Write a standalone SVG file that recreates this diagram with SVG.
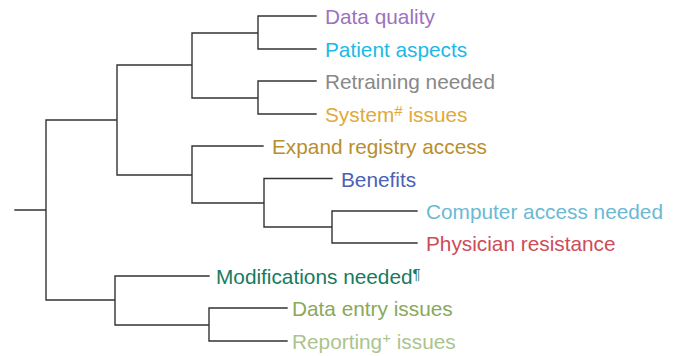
<svg xmlns="http://www.w3.org/2000/svg" width="681" height="356" viewBox="0 0 681 356">
<style>
.c{fill:none;stroke:#333;stroke-width:1.4;stroke-linecap:square}
text{font-family:"Liberation Sans",Arial,sans-serif;font-size:20.8px}
.sup{font-size:15px}
</style>
<rect width="681" height="356" fill="#fff"/>
<g id="connectors">
<path class="c" d="M15 210H46M46 120V300M46 120H117M117 65V175M117 65H192M192 33V98M192 33H258M258 16V49M258 16H316M258 49H316M192 98H258M258 81V114M258 81H316M258 114H316M117 175H192M192 146V203M192 146H263M192 203H264M264 178.5V227M264 178.5H332M264 227H332M332 211V243M332 211H417M332 243H417M46 300H115M115 276V325M115 276H209M115 325H209M209 308V341M209 308H287M209 341H287"/>
</g>
<g id="n-data-quality"><text x="325" y="24" fill="#9b72bf">Data quality</text></g>
<g id="n-patient-aspects"><text x="325" y="57" fill="#1cb9e8">Patient aspects</text></g>
<g id="n-retraining"><text x="325" y="89" fill="#888888">Retraining needed</text></g>
<g id="n-system"><text x="325" y="122" fill="#e0aa3a">System<tspan class="sup" dy="-6">#</tspan><tspan dy="6"> issues</tspan></text></g>
<g id="n-expand"><text x="272" y="154" fill="#b98e2c">Expand registry access</text></g>
<g id="n-benefits"><text x="341" y="186.5" fill="#4a62b5">Benefits</text></g>
<g id="n-computer"><text x="426" y="219" fill="#6bb9d2">Computer access needed</text></g>
<g id="n-physician"><text x="426" y="251" fill="#cc4d58">Physician resistance</text></g>
<g id="n-modifications"><text x="216" y="284" fill="#187a5e">Modifications needed<tspan class="sup" dy="-5">¶</tspan></text></g>
<g id="n-data-entry"><text x="292" y="316" fill="#8aa85a">Data entry issues</text></g>
<g id="n-reporting"><text x="292" y="349" fill="#abc48d">Reporting<tspan class="sup" dy="-6">+</tspan><tspan dy="6"> issues</tspan></text></g>
</svg>
